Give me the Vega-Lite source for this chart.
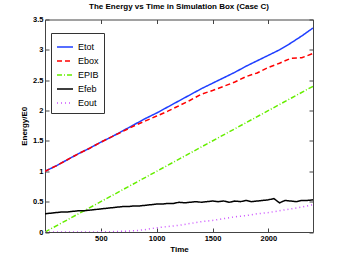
{
  "$schema": "https://vega.github.io/schema/vega-lite/v6.json",
  "width": 268,
  "height": 212.5,
  "autosize": {"type": "none"},
  "padding": {"left": 45, "top": 19.5, "right": 33, "bottom": 29},
  "background": "white",
  "title": {"text": "The Energy vs Time in Simulation Box (Case C)", "font": "Liberation Sans", "fontSize": 8, "fontWeight": "bold", "color": "#000", "offset": 5, "anchor": "middle"},
  "config": {
    "view": {"stroke": "#444", "strokeWidth": 1},
    "axis": {"grid": false, "domain": false, "tickColor": "#444", "tickSize": -4, "labelFont": "Liberation Sans", "labelFontSize": 7.5, "labelFontWeight": "bold", "labelColor": "#000", "titleFont": "Liberation Sans", "titleFontSize": 8, "titleFontWeight": "bold", "titleColor": "#000"}
  },
  "datasets": {
    "series": [
      {"t": 0, "v": 1.00, "s": "Etot"}, {"t": 100, "v": 1.09, "s": "Etot"}, {"t": 200, "v": 1.19, "s": "Etot"}, {"t": 300, "v": 1.29, "s": "Etot"}, {"t": 400, "v": 1.38, "s": "Etot"}, {"t": 500, "v": 1.48, "s": "Etot"}, {"t": 600, "v": 1.57, "s": "Etot"}, {"t": 700, "v": 1.67, "s": "Etot"}, {"t": 800, "v": 1.77, "s": "Etot"}, {"t": 900, "v": 1.87, "s": "Etot"}, {"t": 1000, "v": 1.96, "s": "Etot"}, {"t": 1100, "v": 2.06, "s": "Etot"}, {"t": 1200, "v": 2.16, "s": "Etot"}, {"t": 1300, "v": 2.26, "s": "Etot"}, {"t": 1400, "v": 2.36, "s": "Etot"}, {"t": 1500, "v": 2.45, "s": "Etot"}, {"t": 1600, "v": 2.54, "s": "Etot"}, {"t": 1700, "v": 2.63, "s": "Etot"}, {"t": 1800, "v": 2.73, "s": "Etot"}, {"t": 1900, "v": 2.82, "s": "Etot"}, {"t": 2000, "v": 2.91, "s": "Etot"}, {"t": 2100, "v": 3.00, "s": "Etot"}, {"t": 2200, "v": 3.11, "s": "Etot"}, {"t": 2300, "v": 3.23, "s": "Etot"}, {"t": 2400, "v": 3.36, "s": "Etot"},
      {"t": 0, "v": 1.00, "s": "Ebox"}, {"t": 100, "v": 1.09, "s": "Ebox"}, {"t": 200, "v": 1.19, "s": "Ebox"}, {"t": 300, "v": 1.29, "s": "Ebox"}, {"t": 400, "v": 1.38, "s": "Ebox"}, {"t": 500, "v": 1.48, "s": "Ebox"}, {"t": 600, "v": 1.57, "s": "Ebox"}, {"t": 700, "v": 1.66, "s": "Ebox"}, {"t": 800, "v": 1.75, "s": "Ebox"}, {"t": 900, "v": 1.83, "s": "Ebox"}, {"t": 1000, "v": 1.91, "s": "Ebox"}, {"t": 1100, "v": 1.99, "s": "Ebox"}, {"t": 1200, "v": 2.08, "s": "Ebox"}, {"t": 1300, "v": 2.17, "s": "Ebox"}, {"t": 1400, "v": 2.27, "s": "Ebox"}, {"t": 1500, "v": 2.33, "s": "Ebox"}, {"t": 1600, "v": 2.40, "s": "Ebox"}, {"t": 1700, "v": 2.47, "s": "Ebox"}, {"t": 1800, "v": 2.56, "s": "Ebox"}, {"t": 1900, "v": 2.62, "s": "Ebox"}, {"t": 2000, "v": 2.71, "s": "Ebox"}, {"t": 2100, "v": 2.78, "s": "Ebox"}, {"t": 2200, "v": 2.86, "s": "Ebox"}, {"t": 2300, "v": 2.87, "s": "Ebox"}, {"t": 2400, "v": 2.94, "s": "Ebox"},
      {"t": 0, "v": 0.00, "s": "EPIB"}, {"t": 600, "v": 0.60, "s": "EPIB"}, {"t": 1200, "v": 1.20, "s": "EPIB"}, {"t": 1800, "v": 1.80, "s": "EPIB"}, {"t": 2400, "v": 2.40, "s": "EPIB"},
      {"t": 0, "v": 0.30, "s": "Efeb"}, {"t": 50, "v": 0.31, "s": "Efeb"}, {"t": 100, "v": 0.32, "s": "Efeb"}, {"t": 150, "v": 0.33, "s": "Efeb"}, {"t": 200, "v": 0.33, "s": "Efeb"}, {"t": 250, "v": 0.34, "s": "Efeb"}, {"t": 300, "v": 0.35, "s": "Efeb"}, {"t": 350, "v": 0.35, "s": "Efeb"}, {"t": 400, "v": 0.36, "s": "Efeb"}, {"t": 450, "v": 0.37, "s": "Efeb"}, {"t": 500, "v": 0.38, "s": "Efeb"}, {"t": 550, "v": 0.39, "s": "Efeb"}, {"t": 600, "v": 0.40, "s": "Efeb"}, {"t": 650, "v": 0.41, "s": "Efeb"}, {"t": 700, "v": 0.42, "s": "Efeb"}, {"t": 750, "v": 0.42, "s": "Efeb"}, {"t": 800, "v": 0.43, "s": "Efeb"}, {"t": 850, "v": 0.43, "s": "Efeb"}, {"t": 900, "v": 0.44, "s": "Efeb"}, {"t": 950, "v": 0.45, "s": "Efeb"}, {"t": 1000, "v": 0.46, "s": "Efeb"}, {"t": 1050, "v": 0.46, "s": "Efeb"}, {"t": 1100, "v": 0.47, "s": "Efeb"}, {"t": 1150, "v": 0.47, "s": "Efeb"}, {"t": 1200, "v": 0.49, "s": "Efeb"}, {"t": 1250, "v": 0.48, "s": "Efeb"}, {"t": 1300, "v": 0.49, "s": "Efeb"}, {"t": 1350, "v": 0.50, "s": "Efeb"}, {"t": 1400, "v": 0.49, "s": "Efeb"}, {"t": 1450, "v": 0.50, "s": "Efeb"}, {"t": 1500, "v": 0.51, "s": "Efeb"}, {"t": 1550, "v": 0.50, "s": "Efeb"}, {"t": 1600, "v": 0.51, "s": "Efeb"}, {"t": 1650, "v": 0.49, "s": "Efeb"}, {"t": 1700, "v": 0.51, "s": "Efeb"}, {"t": 1750, "v": 0.50, "s": "Efeb"}, {"t": 1800, "v": 0.52, "s": "Efeb"}, {"t": 1850, "v": 0.50, "s": "Efeb"}, {"t": 1900, "v": 0.51, "s": "Efeb"}, {"t": 1950, "v": 0.52, "s": "Efeb"}, {"t": 2000, "v": 0.53, "s": "Efeb"}, {"t": 2050, "v": 0.55, "s": "Efeb"}, {"t": 2100, "v": 0.48, "s": "Efeb"}, {"t": 2150, "v": 0.52, "s": "Efeb"}, {"t": 2200, "v": 0.51, "s": "Efeb"}, {"t": 2250, "v": 0.50, "s": "Efeb"}, {"t": 2300, "v": 0.52, "s": "Efeb"}, {"t": 2350, "v": 0.52, "s": "Efeb"}, {"t": 2400, "v": 0.53, "s": "Efeb"},
      {"t": 0, "v": 0.00, "s": "Eout"}, {"t": 200, "v": 0.00, "s": "Eout"}, {"t": 400, "v": 0.00, "s": "Eout"}, {"t": 600, "v": 0.005, "s": "Eout"}, {"t": 800, "v": 0.02, "s": "Eout"}, {"t": 900, "v": 0.04, "s": "Eout"}, {"t": 1000, "v": 0.07, "s": "Eout"}, {"t": 1100, "v": 0.09, "s": "Eout"}, {"t": 1200, "v": 0.11, "s": "Eout"}, {"t": 1300, "v": 0.14, "s": "Eout"}, {"t": 1400, "v": 0.17, "s": "Eout"}, {"t": 1500, "v": 0.19, "s": "Eout"}, {"t": 1600, "v": 0.22, "s": "Eout"}, {"t": 1700, "v": 0.25, "s": "Eout"}, {"t": 1800, "v": 0.27, "s": "Eout"}, {"t": 1900, "v": 0.30, "s": "Eout"}, {"t": 2000, "v": 0.32, "s": "Eout"}, {"t": 2100, "v": 0.35, "s": "Eout"}, {"t": 2200, "v": 0.38, "s": "Eout"}, {"t": 2300, "v": 0.41, "s": "Eout"}, {"t": 2400, "v": 0.45, "s": "Eout"}
    ]
  },
  "data": {"name": "series"},
  "layer": [
    {
      "mark": {"type": "line", "clip": true},
      "encoding": {
        "x": {"field": "t", "type": "quantitative", "title": "Time", "scale": {"domain": [0, 2400], "nice": false, "zero": false}, "axis": {"orient": "bottom", "values": [500, 1000, 1500, 2000], "format": "d", "labelPadding": 6, "titlePadding": 4}},
        "y": {"field": "v", "type": "quantitative", "title": "Energy/E0", "scale": {"domain": [0, 3.5], "nice": false}, "axis": {"orient": "left", "values": [0, 0.5, 1, 1.5, 2, 2.5, 3, 3.5], "format": "~g", "labelPadding": 6, "titlePadding": 4}},
        "color": {"field": "s", "type": "nominal", "scale": {"domain": ["Etot", "Ebox", "EPIB", "Efeb", "Eout"], "range": ["#1f3fff", "#ff0000", "#66ee00", "#000000", "#cc55ff"]}, "legend": {"title": null, "orient": "none", "legendX": 6, "legendY": 13.5, "symbolType": "stroke", "symbolSize": 256, "labelFont": "Liberation Sans", "labelFontSize": 9, "labelColor": "#000", "strokeColor": "#333", "fillColor": "white", "padding": 5, "rowPadding": 0, "labelOffset": 4}},
        "strokeDash": {"field": "s", "type": "nominal", "scale": {"domain": ["Etot", "Ebox", "EPIB", "Efeb", "Eout"], "range": [[1, 0], [5, 3], [5, 2, 1, 2], [1, 0], [1, 3]]}, "legend": null},
        "strokeWidth": {"field": "s", "type": "nominal", "scale": {"domain": ["Etot", "Ebox", "EPIB", "Efeb", "Eout"], "range": [1.5, 1.5, 1.5, 3, 1.5]}, "legend": null},
        "detail": {"field": "s"}
      }
    },
    {
      "mark": {"type": "line", "opacity": 0},
      "encoding": {
        "x": {"field": "t", "type": "quantitative", "scale": {"domain": [0, 2400], "nice": false, "zero": false}, "axis": {"orient": "top", "values": [500, 1000, 1500, 2000], "labels": false, "title": null}},
        "y": {"field": "v", "type": "quantitative", "scale": {"domain": [0, 3.5], "nice": false}, "axis": {"orient": "right", "values": [0, 0.5, 1, 1.5, 2, 2.5, 3, 3.5], "labels": false, "title": null}},
        "detail": {"field": "s"}
      }
    }
  ],
  "resolve": {"axis": {"x": "independent", "y": "independent"}}
}
